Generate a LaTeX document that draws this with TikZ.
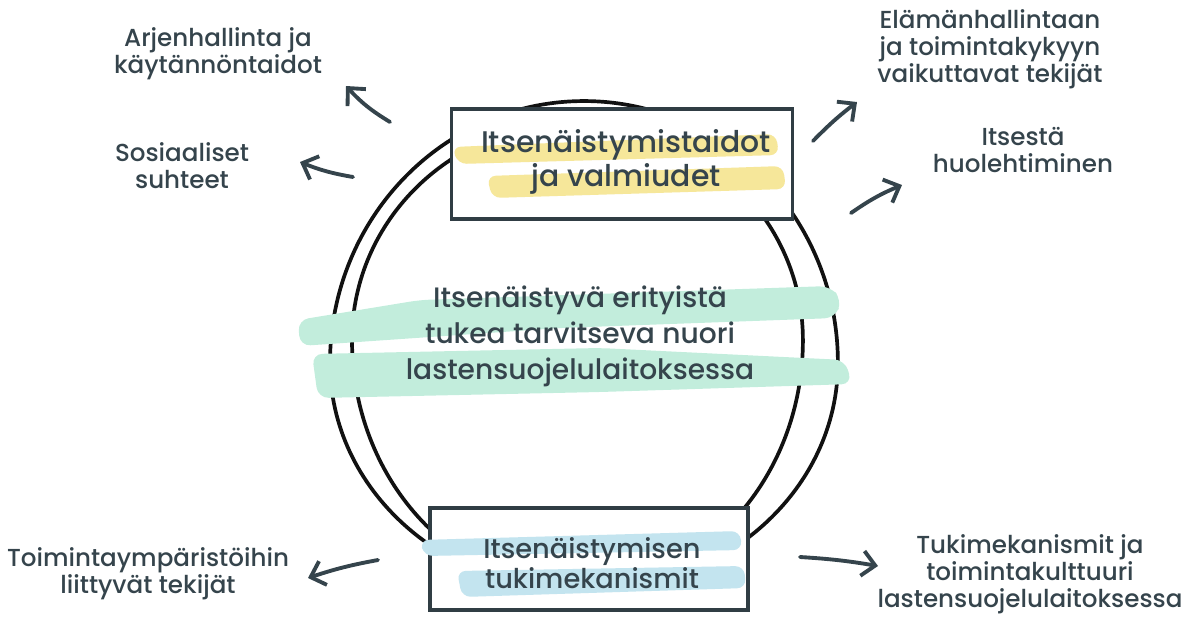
\documentclass[tikz,border=0pt]{standalone}
\usepackage{fontspec}
\setmainfont{Poppins}[BoldFont={Poppins Medium}]
\usetikzlibrary{arrows.meta,positioning}
\definecolor{slateink}{HTML}{35444C}
\definecolor{ringblack}{HTML}{111111}
\definecolor{hlyellow}{HTML}{F6E79A}
\definecolor{hlmint}{HTML}{C2EDDC}
\definecolor{hlblue}{HTML}{C3E4EF}

\begin{document}
\begin{tikzpicture}[x=0.02cm,y=-0.02cm,
    >={Straight Barb[length=2.6mm,width=5mm]},
    pointer/.style={->,line width=2.2pt,slateink,line cap=round},
    label/.style={slateink,align=center,font=\bfseries\fontsize{14}{15.5}\selectfont},
    framebox/.style={draw=slateink!90!black,line width=2.2pt,fill=white},
    ring/.style={ringblack,line width=2.1pt}]
    \useasboundingbox (0,0) rectangle (1196,616);

    % double ring, egg shaped: lower half then upper half
    \draw[ring] (330,363) arc[start angle=180, end angle=360, x radius=5.08cm, y radius=4.58cm]
                          arc[start angle=0, end angle=180, x radius=5.08cm, y radius=5.24cm] -- cycle;
    \draw[ring] (352,340) arc[start angle=180, end angle=360, x radius=4.51cm, y radius=5.0cm]
                          arc[start angle=0, end angle=180, x radius=4.51cm, y radius=4.36cm] -- cycle;

    % centre highlight and text
    \fill[hlmint,rounded corners=6] (298,320) -- (420,300) -- (830,286) -- (842,300)
         -- (835,318) -- (560,328) -- (300,346) -- cycle;
    \fill[hlmint,rounded corners=6] (312,354) -- (600,348) -- (845,360) -- (852,384)
         -- (600,392) -- (318,398) -- cycle;
    \node[slateink,align=center,font=\bfseries\fontsize{16}{20.5}\selectfont] (youth) at (580,336)
         {Itsenäistyvä erityistä\\tukea tarvitseva nuori\\lastensuojelulaitoksessa};

    % top box
    \node[framebox,minimum width=6.82cm,minimum height=2.2cm] (skills) at (622,164) {};
    \fill[hlyellow,rounded corners=5] (452,147) -- (776,134) -- (779,155) -- (458,164) -- cycle;
    \fill[hlyellow,rounded corners=5] (487,176) -- (783,166) -- (786,189) -- (492,198) -- cycle;
    \node[slateink,align=center,font=\bfseries\fontsize{17}{19.5}\selectfont] (skillstext) at (626,162)
         {Itsenäistymistaidot\\ja valmiudet};

    % bottom box
    \node[framebox,minimum width=6.36cm,minimum height=2.04cm] (support) at (589,559) {};
    \fill[hlblue,rounded corners=5] (420,540) -- (740,531) -- (742,550) -- (424,556) -- cycle;
    \fill[hlblue,rounded corners=5] (457,571) -- (744,566) -- (746,588) -- (462,597) -- cycle;
    \node[slateink,align=center,font=\bfseries\fontsize{15.5}{17}\selectfont] (supporttext) at (592,563)
         {Itsenäistymisen\\tukimekanismit};

    % outer labels
    \node[label] (daily)   at (218,54)   {Arjenhallinta ja\\käytännöntaidot};
    \node[label] (social)  at (182,166)  {Sosiaaliset\\suhteet};
    \node[label] (control) at (990,49)   {Elämänhallintaan\\ja toimintakykyyn\\vaikuttavat tekijät};
    \node[label] (selfcare) at (1023,150) {Itsestä\\huolehtiminen};
    \node[label] (environ) at (148,574)  {Toimintaympäristöihin\\liittyvät tekijät};
    \node[label] (culture) at (1030,574) {Tukimekanismit ja\\toimintakulttuuri\\lastensuojelulaitoksessa};

    % arrow ends
    \coordinate (dailyS)   at (390,122);  \coordinate (dailyE)   at (346,86);
    \coordinate (socialS)  at (353,177);  \coordinate (socialE)  at (300,162);
    \coordinate (controlS) at (813,141);  \coordinate (controlE) at (857,102);
    \coordinate (selfS)    at (851,213);  \coordinate (selfE)    at (902,185);
    \coordinate (envS)     at (378,560);  \coordinate (envE)     at (308,578);
    \coordinate (cultS)    at (800,557);  \coordinate (cultE)    at (878,566);

    \draw[pointer] (dailyS)   to[bend left=8]  (dailyE);
    \draw[pointer] (socialS)  to[bend left=6]  (socialE);
    \draw[pointer] (controlS) to[bend left=4]  (controlE);
    \draw[pointer] (selfS)    to[bend left=6]  (selfE);
    \draw[pointer] (envS)     to[bend right=4] (envE);
    \draw[pointer] (cultS)    to[bend left=3]  (cultE);
  \end{tikzpicture}
\end{document}
